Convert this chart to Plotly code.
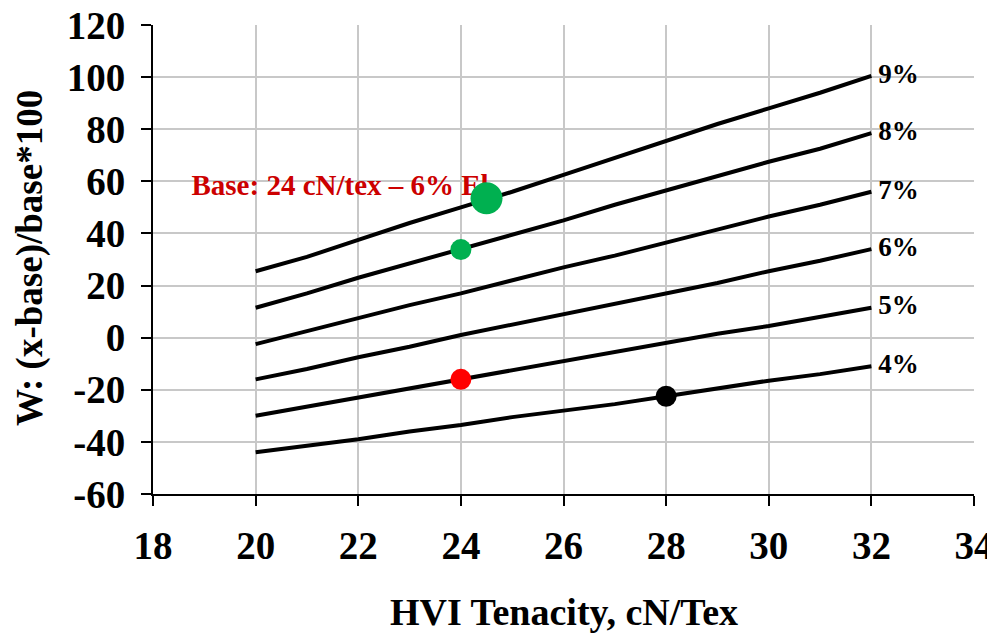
import plotly.graph_objects as go

tenacity = [20, 21, 22, 23, 24, 25, 26, 27, 28, 29, 30, 31, 32]

elong_labels = ['4%', '5%', '6%', '7%', '8%', '9%']
w_4 = [-44, -41.5, -39, -36, -33.5, -30.5, -28, -25.5, -22.5, -19.5, -16.5, -14, -11]
w_5 = [-30, -26.5, -23, -19.5, -16, -12.5, -9, -5.5, -2, 1.5, 4.5, 8, 11.5]
w_6 = [-16, -12, -7.5, -3.5, 1, 5, 9, 13, 17, 21, 25.5, 29.5, 34]
w_7 = [-2.5, 2.5, 7.5, 12.5, 17, 22, 27, 31.5, 36.5, 41.5, 46.5, 51, 56]
w_8 = [11.5, 17, 23, 28.5, 34, 39.5, 45, 51, 56.5, 62, 67.5, 72.5, 78.5]
w_9 = [25.5, 31, 37.5, 44, 50, 56, 62.5, 69, 75.5, 82, 88, 94, 100.5]
curves = [w_4, w_5, w_6, w_7, w_8, w_9]

y_ticks = [-60, -40, -20, 0, 20, 40, 60, 80, 100, 120]
y_ticktext = ['-60', '-40', '-20', '0', '20', '40', '60', '80', '100', '120']

# highlighted points
pt_x = [24.5, 24, 24, 28]
pt_y = [53.5, 33.8, -16, -22.5]
pt_size = [32, 21, 21, 21]
pt_color = ['#00B050', '#00B050', '#FF0000', '#000000']

base_text = 'Base: 24 cN/tex – 6% El'
base_x, base_y = 18.75, 57.5

serif = 'Liberation Serif'

fig = go.Figure()

for lab, w in zip(elong_labels, curves):
    fig.add_trace(go.Scatter(x=tenacity, y=w, mode='lines',
                             line=dict(color='black', width=4), showlegend=False))
    fig.add_trace(go.Scatter(x=[tenacity[-1]], y=[w[-1]], mode='text',
                             text=['<b> ' + lab + '</b>'], textposition='middle right',
                             textfont=dict(family=serif, size=27, color='black'),
                             showlegend=False, cliponaxis=False))

# label drawn before the dots so the big green dot sits on top of it
fig.add_trace(go.Scatter(x=[base_x], y=[base_y], mode='text', text=['<b>' + base_text + '</b>'],
                         textposition='middle right',
                         textfont=dict(family=serif, size=29, color='#CC0000'),
                         showlegend=False))

fig.add_trace(go.Scatter(x=pt_x, y=pt_y, mode='markers',
                         marker=dict(size=pt_size, color=pt_color, opacity=1, line=dict(width=0)),
                         showlegend=False))

fig.update_xaxes(range=[18, 34], dtick=2, showgrid=True, gridcolor='#C8C8C8', gridwidth=2,
                 showline=True, linecolor='black', linewidth=2, ticks='outside', ticklen=10,
                 tickwidth=2, tickcolor='black', zeroline=False, ticklabelstandoff=6,
                 automargin=False, ticklabeloverflow='allow',
                 tickprefix='<b>', ticksuffix='</b>',
                 tickfont=dict(family=serif, size=39, color='black'))
fig.update_yaxes(range=[-60, 120], tickvals=y_ticks,
                 ticktext=['<b>' + t + '</b>' for t in y_ticktext],
                 showgrid=True, gridcolor='#C8C8C8', gridwidth=2,
                 showline=True, linecolor='black', linewidth=2, ticks='outside', ticklen=10,
                 tickwidth=2, tickcolor='black', zeroline=False, ticklabelstandoff=8,
                 automargin=False, ticklabeloverflow='allow',
                 tickfont=dict(family=serif, size=39, color='black'))

fig.add_annotation(text='<b>HVI Tenacity, cN/Tex</b>', xref='paper', yref='paper',
                   x=0.5, y=-0.252, xanchor='center', yanchor='middle', showarrow=False,
                   font=dict(family=serif, size=38, color='black'))
fig.add_annotation(text='<b>W: (x-base)/base*100</b>', xref='paper', yref='paper',
                   x=-0.15, y=0.503, xanchor='center', yanchor='middle', showarrow=False,
                   textangle=-90, font=dict(family=serif, size=37, color='black'))

# page body adds an 8px offset, so the figure is a bit smaller than the window
fig.update_layout(width=987, height=627, margin=dict(l=145, r=21, t=17, b=141),
                  paper_bgcolor='white', plot_bgcolor='white',
                  font=dict(family=serif, color='black'))
fig.write_html('out.html')
